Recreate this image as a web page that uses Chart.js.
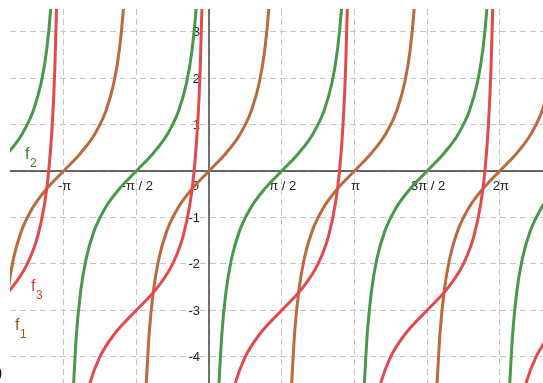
<!DOCTYPE html>
<html>
<head>
<meta charset="utf-8">
<script src="https://cdn.jsdelivr.net/npm/chart.js@4.4.1/dist/chart.umd.min.js"></script>
<style>
  html, body { margin: 0; padding: 0; background: #fff; }
  #wrap { width: 543px; height: 383px; position: relative; }
</style>
</head>
<body>
<div id="wrap"><canvas id="grafik"></canvas></div>
<script>
// tick positions / labels
const xTicks = [-Math.PI, -Math.PI / 2, 0, Math.PI / 2, Math.PI, 3 * Math.PI / 2, 2 * Math.PI];
const xTickLabels = ['-π', '-π / 2', '', 'π / 2', 'π', '3π / 2', '2π'];
const yTicks = [-4, -3, -2, -1, 0, 1, 2, 3];
const yTickLabels = ['-4', '-3', '-2', '-1', '', '1', '2', '3'];

// f1 (brown), points, null = break between branches
const f1X = [
  -4.4984, -4.4341, -4.3452, -4.2279, -4.0567, -3.8163, -3.5221, -3.1416, -2.7611, -2.4669, -2.2265, -2.0553, -1.9380, -1.8491, -1.7848, null,
  -1.3568, -1.2925, -1.2036, -1.0863, -0.9151, -0.6747, -0.3805, 0, 0.3805, 0.6747, 0.9151, 1.0863, 1.2036, 1.2925, 1.3568, null,
  1.7848, 1.8491, 1.9380, 2.0553, 2.2265, 2.4669, 2.7611, 3.1416, 3.5221, 3.8163, 4.0567, 4.2279, 4.3452, 4.4341, 4.4984, null,
  4.9264, 4.9907, 5.0796, 5.1969, 5.3681, 5.6085, 5.9027, 6.2832, 6.6637, 6.9579, 7.1983, 7.3695, 7.4868, 7.5757, 7.6400
];
const f1Y = [
  -4.6, -3.5, -2.6, -1.9, -1.3, -0.8, -0.4, 0, 0.4, 0.8, 1.3, 1.9, 2.6, 3.5, 4.6, null,
  -4.6, -3.5, -2.6, -1.9, -1.3, -0.8, -0.4, 0, 0.4, 0.8, 1.3, 1.9, 2.6, 3.5, 4.6, null,
  -4.6, -3.5, -2.6, -1.9, -1.3, -0.8, -0.4, 0, 0.4, 0.8, 1.3, 1.9, 2.6, 3.5, 4.6, null,
  -4.6, -3.5, -2.6, -1.9, -1.3, -0.8, -0.4, 0, 0.4, 0.8, 1.3, 1.9, 2.6, 3.5, 4.6
];

// f2 (green)
const f2X = [
  -5.0929, -4.7124, -4.3319, -4.0377, -3.7973, -3.6261, -3.5088, -3.4199, -3.3556, null,
  -2.9276, -2.8633, -2.7744, -2.6571, -2.4859, -2.2455, -1.9513, -1.5708, -1.1903, -0.8961, -0.6557, -0.4845, -0.3672, -0.2783, -0.2140, null,
  0.2140, 0.2783, 0.3672, 0.4845, 0.6557, 0.8961, 1.1903, 1.5708, 1.9513, 2.2455, 2.4859, 2.6571, 2.7744, 2.8633, 2.9276, null,
  3.3556, 3.4199, 3.5088, 3.6261, 3.7973, 4.0377, 4.3319, 4.7124, 5.0929, 5.3871, 5.6275, 5.7987, 5.9160, 6.0049, 6.0692, null,
  6.4972, 6.5615, 6.6504, 6.7677, 6.9389, 7.1793, 7.4735, 7.8540
];
const f2Y = [
  -0.4, 0, 0.4, 0.8, 1.3, 1.9, 2.6, 3.5, 4.6, null,
  -4.6, -3.5, -2.6, -1.9, -1.3, -0.8, -0.4, 0, 0.4, 0.8, 1.3, 1.9, 2.6, 3.5, 4.6, null,
  -4.6, -3.5, -2.6, -1.9, -1.3, -0.8, -0.4, 0, 0.4, 0.8, 1.3, 1.9, 2.6, 3.5, 4.6, null,
  -4.6, -3.5, -2.6, -1.9, -1.3, -0.8, -0.4, 0, 0.4, 0.8, 1.3, 1.9, 2.6, 3.5, 4.6, null,
  -4.6, -3.5, -2.6, -1.9, -1.3, -0.8, -0.4, 0
];

// f3 (red)
const f3X = [
  -5.1760, -4.7124, -4.2488, -3.9270, -3.7002, -3.5517, -3.4634, -3.3866, -3.3316, -3.2920, -3.2660, null,
  -2.6779, -2.5830, -2.3562, -2.0344, -1.5708, -1.1072, -0.7854, -0.5586, -0.4101, -0.3218, -0.2450, -0.1900, -0.1504, -0.1244, null,
  0.4637, 0.5586, 0.7854, 1.1072, 1.5708, 2.0344, 2.3562, 2.5830, 2.7315, 2.8198, 2.8966, 2.9516, 2.9912, 3.0172, null,
  3.6053, 3.7002, 3.9270, 4.2488, 4.7124, 5.1760, 5.4978, 5.7246, 5.8731, 5.9614, 6.0382, 6.0932, 6.1328, 6.1588, null,
  6.7469, 6.8418, 7.0686, 7.3904, 7.8540
];
const f3Y = [
  -3.5, -3, -2.5, -2, -1.4, -0.7, 0, 1, 2.2, 3.6, 5, null,
  -5, -4.6, -4, -3.5, -3, -2.5, -2, -1.4, -0.7, 0, 1, 2.2, 3.6, 5, null,
  -5, -4.6, -4, -3.5, -3, -2.5, -2, -1.4, -0.7, 0, 1, 2.2, 3.6, 5, null,
  -5, -4.6, -4, -3.5, -3, -2.5, -2, -1.4, -0.7, 0, 1, 2.2, 3.6, 5, null,
  -5, -4.6, -4, -3.5, -3
];

function toPoints(xs, ys) {
  return xs.map((x, i) => ({ x: x, y: ys[i] }));
}

function kurve(label, xs, ys, color, order) {
  return {
    label: label,
    data: toPoints(xs, ys),
    borderColor: color,
    borderWidth: 3,
    pointRadius: 0,
    fill: false,
    cubicInterpolationMode: 'monotone',
    spanGaps: false,
    clip: 0,
    order: order
  };
}

const schrift = '"Liberation Sans", Arial, sans-serif';

const achsen = {
  id: 'achsen',
  beforeDatasetsDraw(chart) {
    const { ctx, chartArea: a, scales } = chart;
    const x0 = scales.x.getPixelForValue(0);
    const y0 = scales.y.getPixelForValue(0);
    ctx.save();
    ctx.strokeStyle = '#3a3a3a';
    ctx.lineWidth = 1.4;
    ctx.beginPath();
    ctx.moveTo(a.left, y0);
    ctx.lineTo(a.right, y0);
    ctx.moveTo(x0, a.top);
    ctx.lineTo(x0, a.bottom);
    ctx.stroke();

    ctx.fillStyle = '#222';
    ctx.font = '13px ' + schrift;
    ctx.textAlign = 'center';
    ctx.textBaseline = 'alphabetic';
    xTicks.forEach((v, i) => {
      if (!xTickLabels[i]) return;
      ctx.fillText(xTickLabels[i], scales.x.getPixelForValue(v) + 1, y0 + 19);
    });
    ctx.textAlign = 'right';
    ctx.fillText('0', x0 - 10, y0 + 19);
    ctx.textBaseline = 'middle';
    yTicks.forEach((v, i) => {
      if (!yTickLabels[i]) return;
      ctx.fillText(yTickLabels[i], x0 - 9, scales.y.getPixelForValue(v) + 1);
    });

    // function names
    const name = (sub, x, y, color) => {
      ctx.fillStyle = color;
      ctx.textAlign = 'left';
      ctx.textBaseline = 'alphabetic';
      ctx.font = '16px ' + schrift;
      ctx.fillText('f', x, y);
      ctx.font = '12px ' + schrift;
      ctx.fillText(sub, x + 5, y + 8);
    };
    name('2', 25, 159, '#2f8a2f');
    name('3', 31, 291, '#e03a3a');
    name('1', 15, 330, '#a8511f');

    ctx.fillStyle = '#111';
    ctx.font = '16px ' + schrift;
    ctx.textAlign = 'left';
    ctx.fillText(')', -3, 378);
    ctx.restore();
  }
};

const gitter = {
  color: '#c4c4c4',
  lineWidth: 1,
  drawTicks: false
};

new Chart(document.getElementById('grafik'), {
  type: 'line',
  data: {
    datasets: [
      kurve('f3', f3X, f3Y, '#e24b4b', 1),
      kurve('f1', f1X, f1Y, '#bb6a3e', 2),
      kurve('f2', f2X, f2Y, '#47994a', 3)
    ]
  },
  options: {
    responsive: true,
    maintainAspectRatio: false,
    animation: false,
    events: [],
    layout: { padding: { left: 10, top: 9, right: 0, bottom: 0 } },
    plugins: { legend: { display: false }, tooltip: { enabled: false } },
    scales: {
      x: {
        type: 'linear',
        min: -4.30,
        max: 7.217,
        grid: gitter,
        border: { display: false, dash: [6, 4] },
        ticks: { display: false },
        afterBuildTicks: s => { s.ticks = xTicks.map(v => ({ value: v })); }
      },
      y: {
        type: 'linear',
        min: -4.566,
        max: 3.49,
        grid: gitter,
        border: { display: false, dash: [6, 4] },
        ticks: { display: false },
        afterBuildTicks: s => { s.ticks = yTicks.map(v => ({ value: v })); }
      }
    }
  },
  plugins: [achsen]
});
</script>
</body>
</html>
